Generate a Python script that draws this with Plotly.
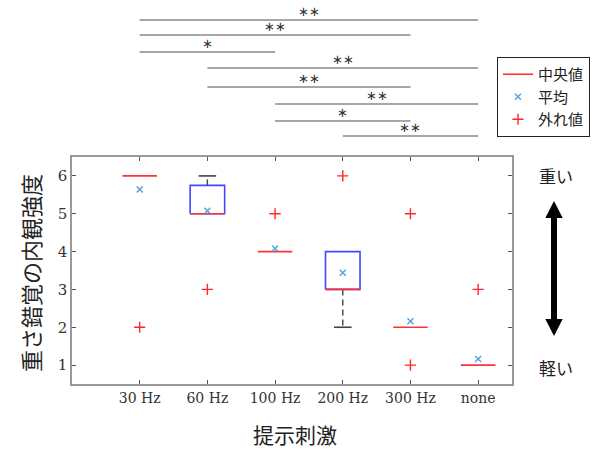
import plotly.graph_objects as go

# ---------------- data ----------------
categories = ["30 Hz", "60 Hz", "100 Hz", "200 Hz", "300 Hz", "none"]
q1 = [6, 5, 4, 3, 2, 1]
medians = [6, 5, 4, 3, 2, 1]
q3 = [6, 5.75, 4, 4, 2, 1]
lower_whisker = [6, 5, 4, 2, 2, 1]
upper_whisker = [6, 6, 4, 4, 2, 1]
means = [5.64, 5.08, 4.08, 3.44, 2.16, 1.16]
outlier_cat = ["30 Hz", "60 Hz", "100 Hz", "200 Hz", "300 Hz", "300 Hz", "none"]
outlier_val = [2, 3, 5, 6, 5, 1, 3]
# significance comparisons (from category, to category, label)
sig_from = ["30 Hz", "30 Hz", "30 Hz", "60 Hz", "60 Hz", "100 Hz", "100 Hz", "200 Hz"]
sig_to = ["none", "300 Hz", "100 Hz", "none", "300 Hz", "none", "300 Hz", "none"]
sig_label = ["**", "**", "*", "**", "**", "**", "*", "**"]

# ---------------- layout geometry ----------------
W, H = 613, 450
L, T, PW, PH = 72, 157, 440, 227
R, B = W - L - PW, H - T - PH
HALF = 0.255
CAP = 0.13


def px_x(px):
    return (px - L) / PW


def px_y(py):
    return (T + PH - py) / PH


pos = {c: i + 1 for i, c in enumerate(categories)}

fig = go.Figure()

# boxes (only where there is a spread)
bx, by = [], []
for i, c in enumerate(categories):
    if q3[i] > q1[i]:
        x0, x1 = pos[c] - HALF, pos[c] + HALF
        bx += [x0, x1, x1, x0, x0, None]
        by += [q1[i], q1[i], q3[i], q3[i], q1[i], None]
fig.add_trace(go.Scatter(x=bx, y=by, mode="lines", line=dict(color="rgb(70,70,255)", width=1.6),
                         showlegend=False, hoverinfo="skip"))

# whiskers
wx, wy, cx, cy = [], [], [], []
for i, c in enumerate(categories):
    if upper_whisker[i] > q3[i]:
        wx += [pos[c], pos[c], None]
        wy += [q3[i], upper_whisker[i], None]
        cx += [pos[c] - CAP, pos[c] + CAP, None]
        cy += [upper_whisker[i], upper_whisker[i], None]
    if lower_whisker[i] < q1[i]:
        wx += [pos[c], pos[c], None]
        wy += [q1[i], lower_whisker[i], None]
        cx += [pos[c] - CAP, pos[c] + CAP, None]
        cy += [lower_whisker[i], lower_whisker[i], None]
fig.add_trace(go.Scatter(x=wx, y=wy, mode="lines", line=dict(color="#444", width=1.4, dash="6px,4px"),
                         showlegend=False, hoverinfo="skip"))
fig.add_trace(go.Scatter(x=cx, y=cy, mode="lines", line=dict(color="#444", width=1.6),
                         showlegend=False, hoverinfo="skip"))

# medians
mx, my = [], []
for i, c in enumerate(categories):
    mx += [pos[c] - HALF, pos[c] + HALF, None]
    my += [medians[i], medians[i], None]
fig.add_trace(go.Scatter(x=mx, y=my, mode="lines", line=dict(color="rgb(255,50,50)", width=1.6),
                         name="中央値"))

# means
fig.add_trace(go.Scatter(x=[pos[c] for c in categories], y=means, mode="markers",
                         marker=dict(symbol="x-thin", size=6, line=dict(color="rgb(80,160,225)", width=1.4)),
                         name="平均"))

# outliers
fig.add_trace(go.Scatter(x=[pos[c] for c in outlier_cat], y=outlier_val, mode="markers",
                         marker=dict(symbol="cross-thin", size=8, line=dict(color="rgb(255,40,40)", width=1.4)),
                         name="外れ値"))

# significance lines
sig_py = [20, 35, 52, 68, 87, 104, 121, 136]
shapes = []
annotations = []
for k in range(len(sig_label)):
    a, b = pos[sig_from[k]], pos[sig_to[k]]
    yv = px_y(sig_py[k])
    shapes.append(dict(type="line", xref="x", yref="paper", x0=a, x1=b, y0=yv, y1=yv,
                       line=dict(color="#8a8a8a", width=1.3)))
    annotations.append(dict(x=(a + b) / 2, y=yv, xref="x", yref="paper", text=sig_label[k].replace("*", "∗"),
                            showarrow=False, xanchor="center", yanchor="bottom", yshift=-1,
                            font=dict(family="DejaVu Sans", size=13, color="#333")))

# double arrow on the right
ax = 554
shapes.append(dict(type="rect", xref="paper", yref="paper", x0=px_x(ax - 3), x1=px_x(ax + 3),
                   y0=px_y(322), y1=px_y(215), fillcolor="black", line=dict(width=0)))
shapes.append(dict(type="path", xref="paper", yref="paper",
                   path=f"M {px_x(ax)} {px_y(201)} L {px_x(ax - 8.7)} {px_y(218)} L {px_x(ax + 8.7)} {px_y(218)} Z",
                   fillcolor="black", line=dict(width=0)))
shapes.append(dict(type="path", xref="paper", yref="paper",
                   path=f"M {px_x(ax)} {px_y(336)} L {px_x(ax - 8.7)} {px_y(319)} L {px_x(ax + 8.7)} {px_y(319)} Z",
                   fillcolor="black", line=dict(width=0)))
annotations.append(dict(x=px_x(556), y=px_y(175), xref="paper", yref="paper", text="重い", showarrow=False,
                        xanchor="center", yanchor="middle",
                        font=dict(family="Noto Sans CJK JP", size=17, color="#222")))
annotations.append(dict(x=px_x(556), y=px_y(367), xref="paper", yref="paper", text="軽い", showarrow=False,
                        xanchor="center", yanchor="middle",
                        font=dict(family="Noto Sans CJK JP", size=17, color="#222")))

# axis titles
annotations.append(dict(x=px_x(30), y=px_y(273), xref="paper", yref="paper", text="重さ錯覚の内観強度",
                        textangle=-90, showarrow=False, xanchor="center", yanchor="middle",
                        font=dict(family="Noto Sans CJK JP", size=22, color="#222")))
annotations.append(dict(x=px_x(295), y=px_y(434), xref="paper", yref="paper", text="提示刺激",
                        showarrow=False, xanchor="center", yanchor="middle",
                        font=dict(family="Noto Sans CJK JP", size=21, color="#222")))

fig.update_layout(
    width=W, height=H,
    margin=dict(l=L, r=R, t=T, b=B, pad=0, autoexpand=False),
    paper_bgcolor="white", plot_bgcolor="white",
    shapes=shapes, annotations=annotations,
    showlegend=True,
    legend=dict(x=px_x(497), y=px_y(57), xanchor="left", yanchor="top",
                bordercolor="#222", borderwidth=1, bgcolor="white",
                font=dict(family="Noto Sans CJK JP", size=15, color="#222"),
                itemwidth=30, tracegroupgap=0),
    xaxis=dict(range=[0, 6.5], tickvals=[pos[c] for c in categories], ticktext=categories,
               showgrid=False, zeroline=False, showline=True, linecolor="#9a9a9a", linewidth=1.5,
               mirror="ticks", ticks="inside", ticklen=4, tickcolor="#555", tickwidth=1,
               tickfont=dict(family="DejaVu Serif", size=14, color="#333")),
    yaxis=dict(range=[0.5, 6.5], tickvals=[1, 2, 3, 4, 5, 6],
               showgrid=False, zeroline=False, showline=True, linecolor="#9a9a9a", linewidth=1.5,
               mirror="ticks", ticks="inside", ticklen=4, tickcolor="#555", tickwidth=1,
               tickfont=dict(family="DejaVu Serif", size=15, color="#333")),
)

fig.write_html("out.html", post_script="document.body.style.margin='0';",
               config={"displayModeBar": False})
